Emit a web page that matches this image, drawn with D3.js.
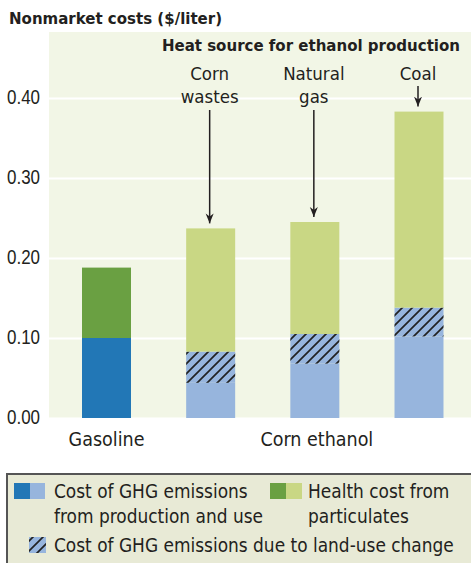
<!DOCTYPE html>
<html>
<head>
<meta charset="utf-8">
<script src="https://cdn.jsdelivr.net/npm/d3@7"></script>
<style>
  body { margin: 0; background: #fff; }
  svg { display: block; font-family: "DejaVu Sans Condensed", "Liberation Sans Narrow", sans-serif; }
  text { fill: #231f20; }
</style>
</head>
<body>
<div class="container"></div>
<script>
const categories = ["Gasoline", "Corn wastes", "Natural gas", "Coal"];
const ghgProduction = [0.100, 0.044, 0.068, 0.102];
const ghgLandUse = [0, 0.039, 0.037, 0.036];
const healthCost = [0.088, 0.154, 0.140, 0.245];
const yTicks = [0, 0.1, 0.2, 0.3, 0.4];
const heatLabels = [["Corn", "wastes"], ["Natural", "gas"], ["Coal"]];

const width = 471;
const height = 563;
const plotLeft = 49, plotTop = 32, plotBottom = 418;

const colors = {
  gasBlue: "#2277b6", gasGreen: "#6aa042",
  ethBlue: "#97b5dd", ethGreen: "#c9d784",
  plotBg: "#f2f6e6", legendBg: "#e8ead6"
};

const svg = d3.select(".container").append("svg").attr("width", width).attr("height", height);

const defs = svg.append("defs");
const pat = defs.append("pattern")
    .attr("id", "hatch")
    .attr("patternUnits", "userSpaceOnUse")
    .attr("width", 10).attr("height", 10);
pat.append("path")
    .attr("d", "M-1,1 l2,-2 M0,10 l10,-10 M9,11 l2,-2")
    .attr("stroke", "#222").attr("stroke-width", 1.7);

const marker = defs.append("marker")
    .attr("id", "arrow")
    .attr("viewBox", "0 0 10 10")
    .attr("refX", 10).attr("refY", 5)
    .attr("markerWidth", 10).attr("markerHeight", 10)
    .attr("markerUnits", "userSpaceOnUse")
    .attr("orient", "auto");
marker.append("path").attr("d", "M0,1 L10,5 L0,9 L3,5 Z").attr("fill", "#231f20");

const y = d3.scaleLinear().domain([0, 0.4]).range([plotBottom, 98]);
const x = d3.scalePoint().domain(categories).range([106.5, 419]);
const barW = 49;

// plot background
svg.append("rect")
    .attr("x", plotLeft).attr("y", plotTop)
    .attr("width", width - plotLeft).attr("height", plotBottom - plotTop)
    .attr("fill", colors.plotBg);

// grid + tick labels
const yAxis = svg.append("g")
    .attr("transform", `translate(${plotLeft},0)`)
    .call(d3.axisLeft(y).tickValues(yTicks).tickFormat(d3.format(".2f")).tickSize(-(width - plotLeft)).tickPadding(9));
yAxis.select(".domain").remove();
yAxis.selectAll(".tick line").attr("stroke", "#fff").attr("stroke-width", 2);
yAxis.selectAll(".tick text")
    .attr("font-size", 20).attr("font-family", "inherit")
    .attr("fill", "#231f20")
    .attr("textLength", 33).attr("lengthAdjust", "spacingAndGlyphs")
    .attr("dy", "0.28em");

// stacked bars
const rows = categories.map((c, i) => {
  const p = ghgProduction[i], l = ghgLandUse[i], h = healthCost[i];
  return { c, i, p, l, h };
});

const bars = svg.append("g").selectAll("g").data(rows).enter().append("g");

bars.append("rect")
    .attr("x", d => x(d.c) - barW / 2).attr("width", barW)
    .attr("y", d => y(d.p)).attr("height", d => y(0) - y(d.p))
    .attr("fill", d => d.i === 0 ? colors.gasBlue : colors.ethBlue);

bars.filter(d => d.l > 0).append("rect")
    .attr("x", d => x(d.c) - barW / 2).attr("width", barW)
    .attr("y", d => y(d.p + d.l)).attr("height", d => y(d.p) - y(d.p + d.l))
    .attr("fill", colors.ethBlue);
bars.filter(d => d.l > 0).append("rect")
    .attr("x", d => x(d.c) - barW / 2).attr("width", barW)
    .attr("y", d => y(d.p + d.l)).attr("height", d => y(d.p) - y(d.p + d.l))
    .attr("fill", "url(#hatch)");

bars.append("rect")
    .attr("x", d => x(d.c) - barW / 2).attr("width", barW)
    .attr("y", d => y(d.p + d.l + d.h)).attr("height", d => y(d.p + d.l) - y(d.p + d.l + d.h))
    .attr("fill", d => d.i === 0 ? colors.gasGreen : colors.ethGreen);

// titles
svg.append("text")
    .attr("x", 9).attr("y", 24)
    .attr("font-size", 16.7).attr("font-weight", "bold")
    .text("Nonmarket costs ($/liter)");

svg.append("text")
    .attr("x", 460).attr("y", 51)
    .attr("text-anchor", "end")
    .attr("font-size", 16.7).attr("font-weight", "bold")
    .text("Heat source for ethanol production");

// heat source labels + arrows
const ethRows = rows.slice(1);
ethRows.forEach((d, k) => {
  const lines = heatLabels[k];
  const t = svg.append("text")
      .attr("text-anchor", "middle")
      .attr("font-size", 18.5);
  lines.forEach((s, j) => {
    t.append("tspan").attr("x", x(d.c) - 1).attr("y", 80 + j * 23).text(s);
  });
  const top = y(d.p + d.l + d.h);
  svg.append("line")
      .attr("x1", x(d.c) - 1).attr("x2", x(d.c) - 1)
      .attr("y1", lines.length > 1 ? 110 : 86)
      .attr("y2", top - 5)
      .attr("stroke", "#231f20").attr("stroke-width", 1.5)
      .attr("marker-end", "url(#arrow)");
});

// bottom category labels
svg.append("text")
    .attr("x", x("Gasoline")).attr("y", 446)
    .attr("text-anchor", "middle").attr("font-size", 19.5)
    .text("Gasoline");
svg.append("text")
    .attr("x", x("Natural gas") + 2).attr("y", 446)
    .attr("text-anchor", "middle").attr("font-size", 19.5)
    .text("Corn ethanol");

// legend
const legend = svg.append("g");
legend.append("rect")
    .attr("x", 7).attr("y", 474)
    .attr("width", width + 10).attr("height", 100)
    .attr("fill", colors.legendBg).attr("stroke", "#555").attr("stroke-width", 2);

legend.append("rect").attr("x", 14).attr("y", 483).attr("width", 16).attr("height", 16).attr("fill", colors.gasBlue);
legend.append("rect").attr("x", 30).attr("y", 483).attr("width", 15).attr("height", 16).attr("fill", colors.ethBlue);
legend.append("rect").attr("x", 270).attr("y", 483).attr("width", 16).attr("height", 16).attr("fill", colors.gasGreen);
legend.append("rect").attr("x", 286).attr("y", 483).attr("width", 16).attr("height", 16).attr("fill", colors.ethGreen);
legend.append("rect").attr("x", 29).attr("y", 537).attr("width", 17).attr("height", 16).attr("fill", colors.ethBlue);
legend.append("rect").attr("x", 29).attr("y", 537).attr("width", 17).attr("height", 16).attr("fill", "url(#hatch)");

const legendText = [
  { x: 54, y: 498, s: "Cost of GHG emissions" },
  { x: 54, y: 523, s: "from production and use" },
  { x: 308, y: 498, s: "Health cost from" },
  { x: 308, y: 523, s: "particulates" },
  { x: 54, y: 552, s: "Cost of GHG emissions due to land-use change" }
];
legend.selectAll("text.lt").data(legendText).enter().append("text")
    .attr("class", "lt")
    .attr("x", d => d.x).attr("y", d => d.y)
    .attr("font-size", 18.9)
    .text(d => d.s);
</script>
</body>
</html>
